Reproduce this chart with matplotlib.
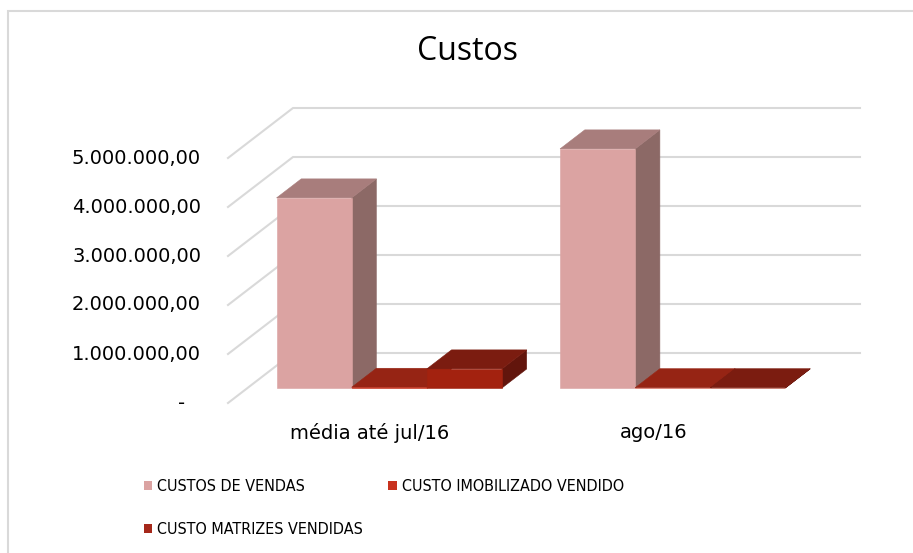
import numpy as np
import matplotlib
matplotlib.use("Agg")
import matplotlib.pyplot as plt
from matplotlib.patches import Polygon, Patch, Rectangle

# Dados
categorias = ["média até jul/16", "ago/16"]
series = ["CUSTOS DE VENDAS", "CUSTO IMOBILIZADO VENDIDO", "CUSTO MATRIZES VENDIDAS"]
custos_vendas = [3880000, 4880000]
custo_imobilizado = [15000, 6000]
custo_matrizes = [390000, 6000]
valores = [custos_vendas, custo_imobilizado, custo_matrizes]

yticks = [0, 1000000, 2000000, 3000000, 4000000, 5000000]
ytick_labels = ["-", "1.000.000,00", "2.000.000,00", "3.000.000,00", "4.000.000,00", "5.000.000,00"]

# cores: frente, topo, lateral
cores = [
    ("#DBA3A2", "#A87D7C", "#8C6966"),
    ("#C2301B", "#962414", "#75190E"),
    ("#A3220F", "#7B1C10", "#62150C"),
]
cores_legenda = ["#DBA3A2", "#C8321E", "#A5281A"]

W, H = 913, 553
fig = plt.figure(figsize=(W / 100, H / 100), dpi=100)
ax = fig.add_axes([228 / W, (H - 403) / H, 567 / W, 245 / H])
ax.set_xlim(-0.5, 1.5)
ax.set_ylim(0, 5000000)
ax.axis("off")

# profundidade da vista 3D (em unidades dos eixos)
DX = 65 / 283.5
DY = 50 / 49 * 1e6
d0, d1 = 0.30, 0.68
largura = 0.265


def proj(x, y, d):
    return (x + d * DX, y + d * DY)


grid_cor = "#D9D9D9"
for v in yticks:
    p0 = proj(-0.5, v, 0)
    p1 = proj(-0.5, v, 1)
    p2 = proj(1.5, v, 1)
    ax.plot([p0[0], p1[0], p2[0]], [p0[1], p1[1], p2[1]], color=grid_cor,
            lw=1.5, clip_on=False, zorder=1)

for c in range(len(categorias)):
    for s in range(len(series)):
        v = valores[s][c]
        x0 = c - 1.5 * largura + s * largura
        x1 = x0 + largura
        frente, topo, lado = cores[s]
        faces = [
            ([proj(x1, 0, d0), proj(x1, v, d0), proj(x1, v, d1), proj(x1, 0, d1)], lado),
            ([proj(x0, v, d0), proj(x1, v, d0), proj(x1, v, d1), proj(x0, v, d1)], topo),
            ([proj(x0, 0, d0), proj(x1, 0, d0), proj(x1, v, d0), proj(x0, v, d0)], frente),
        ]
        for pts, cor in faces:
            ax.add_patch(Polygon(pts, closed=True, facecolor=cor, edgecolor=cor,
                                 lw=0.4, clip_on=False, zorder=2))

# rótulos do eixo y
for v, lab in zip(yticks, ytick_labels):
    off = -43 if lab == "-" else -27
    ax.annotate(lab, xy=(-0.5, v), xytext=(off * 0.72, 0), textcoords="offset points",
                ha="right", va="center", fontsize=14, color="#000000",
                annotation_clip=False)

# rótulos das categorias
for c, lab in enumerate(categorias):
    ax.annotate(lab, xy=(c, 0), xytext=(0, -20 * 0.72), textcoords="offset points",
                ha="center", va="top", fontsize=14, color="#000000",
                annotation_clip=False)

fig.text(467 / W, 1 - 51 / H, "Custos", ha="center", va="center",
         fontsize=23, family=["Open Sans", "DejaVu Sans"], color="#000000")

handles = [Patch(facecolor=cores_legenda[i], edgecolor="none") for i in range(3)]
ordem = [0, 2, 1]
fig.legend([handles[i] for i in ordem], [series[i] for i in ordem],
           loc="upper left", bbox_to_anchor=(144 / W, 1 - 479 / H), ncol=2,
           frameon=False, handlelength=0.52, handleheight=0.52, handletextpad=0.3,
           columnspacing=1.6, labelspacing=1.75, borderaxespad=0, borderpad=0,
           prop={"family": "DejaVu Sans", "stretch": "condensed", "size": 11.5})

# borda do gráfico
fig.add_artist(Rectangle((8 / W, -0.1), 1.2, 1.1 - 10.5 / H, transform=fig.transFigure,
                         facecolor="none", edgecolor="#D9D9D9", lw=1.5))

fig.savefig("out.png", dpi=100)
